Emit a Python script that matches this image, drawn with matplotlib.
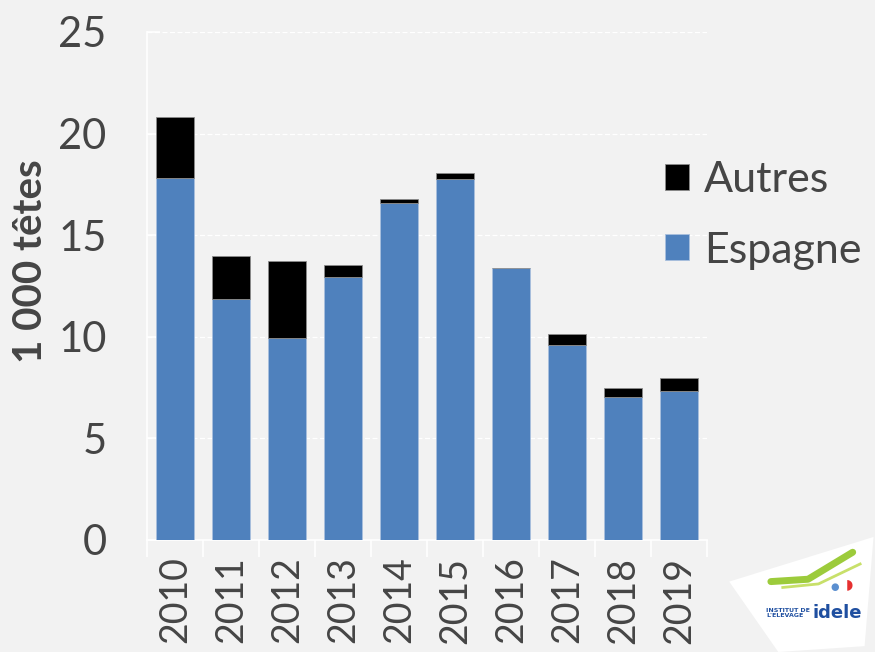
import numpy as np
import matplotlib.pyplot as plt
from matplotlib.patches import Polygon
from matplotlib.ticker import FixedLocator

years = ['2010', '2011', '2012', '2013', '2014', '2015', '2016', '2017', '2018', '2019']
espagne = [17.8, 11.85, 9.95, 12.95, 16.6, 17.75, 13.4, 9.6, 7.05, 7.35]
autres = [3.0, 2.1, 3.8, 0.6, 0.2, 0.3, 0.0, 0.55, 0.4, 0.6]

bg = '#f2f2f2'
txt = '#454545'
blue = '#4f81bd'

plt.rcParams['font.family'] = ['Lato', 'DejaVu Sans']

fig = plt.figure(figsize=(8.75, 6.52), dpi=100, facecolor=bg)
ax = fig.add_axes([0.168, 0.172, 0.64, 0.779], facecolor=bg)

x = np.arange(len(years))
w = 0.68
ax.bar(x, espagne, w, color=blue, edgecolor='#a9c0de', linewidth=0.6, label='Espagne', zorder=3)
ax.bar(x, autres, w, bottom=espagne, color='black', edgecolor='#8c8c8c', linewidth=0.6,
       label='Autres', zorder=3)

ax.set_xlim(-0.5, len(years) - 0.5)
ax.set_ylim(0, 25)
ax.set_yticks(np.arange(0, 26, 5))
ax.yaxis.grid(True, color='white', linestyle=(0, (4, 2)), linewidth=0.9, zorder=0)
ax.set_axisbelow(True)

for s in ['top', 'right']:
    ax.spines[s].set_visible(False)
for s in ['left', 'bottom']:
    ax.spines[s].set_color('white')
    ax.spines[s].set_linewidth(1.2)

ax.tick_params(axis='y', direction='in', length=9, color='white', width=1.2,
               labelsize=30, labelcolor=txt, pad=29)
ax.set_xticks(x)
ax.set_xticklabels(years, rotation=90, fontsize=27, color=txt)
ax.xaxis.set_minor_locator(FixedLocator(np.arange(-0.5, len(years), 1)))
ax.tick_params(axis='x', which='major', length=0, pad=12)
ax.tick_params(axis='x', which='minor', length=12, color='white', width=1.2)
fig.text(0.035, 0.6, '1 000 têtes', rotation=90, fontsize=29, fontweight='bold', color=txt,
         ha='center', va='center')

handles, labels = ax.get_legend_handles_labels()
leg = fig.legend(handles[::-1], labels[::-1], loc='upper left', bbox_to_anchor=(0.716, 0.812),
                 frameon=False, labelcolor=txt, handlelength=0.55,
                 handleheight=0.55, handletextpad=0.35, labelspacing=0.75,
                 prop={'size': 31})

# logo
lg = fig.add_axes([0.83, 0.0, 0.17, 0.18], facecolor='none')
lg.set_xlim(0, 1)
lg.set_ylim(0, 1)
lg.axis('off')
lg.add_patch(Polygon([[0.02, 0.6], [0.99, 0.98], [0.93, 0.05], [0.35, 0.0]], closed=True,
                     facecolor='white', edgecolor='none', joinstyle='round'))
lg.plot([0.3, 0.55, 0.85], [0.6, 0.62, 0.85], color='#9ccb3b', linewidth=5, solid_capstyle='round')
lg.plot([0.38, 0.62, 0.9], [0.55, 0.58, 0.75], color='#c8e06a', linewidth=2)
lg.text(0.27, 0.33, "INSTITUT DE\nL'ELEVAGE", fontsize=4.5, fontweight='bold', color='#1f4fa0',
        va='center', ha='left', linespacing=1.0, family='DejaVu Sans')
lg.text(0.58, 0.33, 'idele', fontsize=13, fontweight='bold', color='#1f4fa0', va='center',
        ha='left', family='DejaVu Sans')
lg.text(0.73, 0.55, '●', fontsize=7, color='#5b8fd0', va='center', ha='center', family='DejaVu Sans')
lg.text(0.83, 0.58, '◗', fontsize=10, color='#e63030', va='center', ha='center', family='DejaVu Sans')

fig.savefig('out.png', dpi=100, facecolor=bg)
